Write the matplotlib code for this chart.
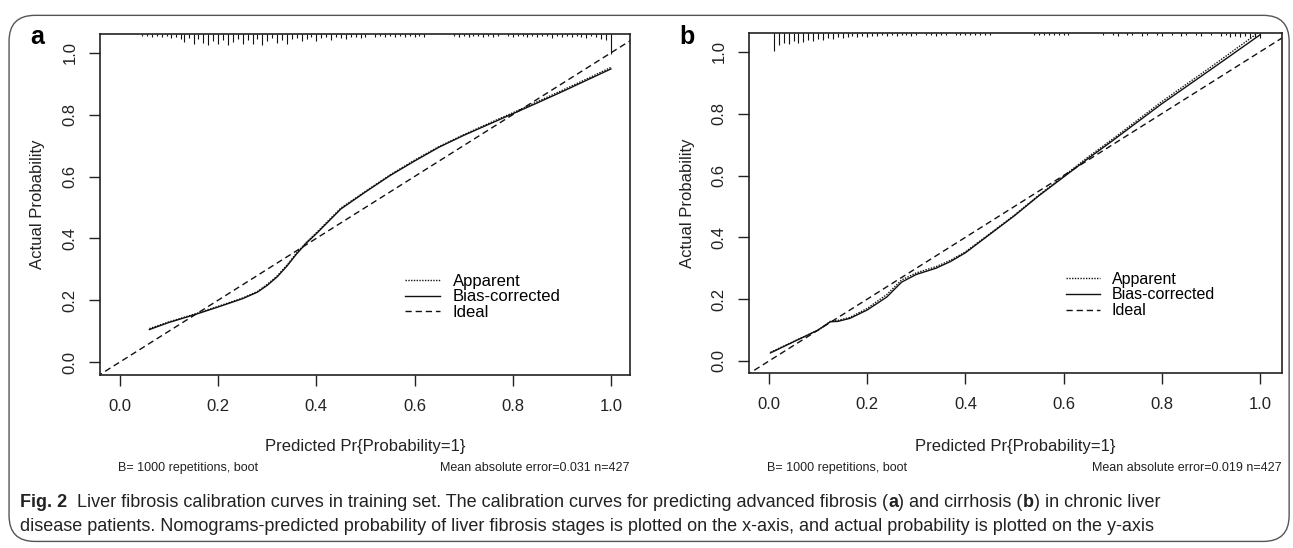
import matplotlib
matplotlib.use("Agg")
import matplotlib.pyplot as plt
from matplotlib.patches import FancyBboxPatch

plt.rcParams["font.family"] = ["Liberation Sans", "DejaVu Sans"]

# ---- panel a: advanced fibrosis ----
pred_a = [0.06, 0.10, 0.15, 0.20, 0.25, 0.28, 0.30, 0.32, 0.34, 0.36, 0.38, 0.40,
          0.45, 0.50, 0.55, 0.60, 0.65, 0.70, 0.75, 0.80, 0.85, 0.90, 0.95, 1.00]
bias_a = [0.105, 0.128, 0.152, 0.178, 0.205, 0.226, 0.248, 0.275, 0.31, 0.35, 0.385, 0.415,
          0.495, 0.550, 0.603, 0.650, 0.695, 0.733, 0.768, 0.803, 0.838, 0.874, 0.911, 0.948]
appar_a = [0.108, 0.130, 0.154, 0.180, 0.207, 0.228, 0.251, 0.278, 0.313, 0.353, 0.388, 0.418,
           0.498, 0.552, 0.605, 0.653, 0.697, 0.735, 0.771, 0.806, 0.842, 0.878, 0.915, 0.953]

# spike histogram of predicted values (top rug)
rug_x_a = [0.045, 0.055, 0.065, 0.075, 0.085, 0.095, 0.105, 0.115, 0.125, 0.13, 0.14, 0.15,
           0.16, 0.17, 0.18, 0.19, 0.20, 0.21, 0.22, 0.23, 0.24, 0.25, 0.26, 0.27, 0.28,
           0.29, 0.30, 0.31, 0.32, 0.33, 0.34, 0.35, 0.36, 0.37, 0.38, 0.39, 0.40, 0.41,
           0.42, 0.43, 0.44, 0.45, 0.46, 0.47, 0.48, 0.49, 0.50, 0.52, 0.53, 0.54, 0.55,
           0.56, 0.57, 0.58, 0.59, 0.60, 0.61, 0.62, 0.68, 0.69, 0.70, 0.71, 0.72, 0.73,
           0.74, 0.75, 0.76, 0.77, 0.79, 0.80, 0.81, 0.82, 0.83, 0.84, 0.85, 0.86, 0.87,
           0.88, 0.89, 0.90, 0.91, 0.92, 0.93, 0.94, 0.95, 0.96, 0.97, 0.98, 0.99, 1.00]
rug_n_a = [2, 2, 3, 2, 3, 2, 4, 3, 5, 8, 4, 10,
           5, 9, 11, 7, 10, 6, 11, 8, 5, 10, 6, 10, 5,
           11, 7, 4, 9, 6, 10, 5, 4, 7, 5, 3, 7, 4,
           3, 6, 3, 4, 5, 3, 3, 4, 3, 3, 2, 3, 2,
           3, 2, 3, 2, 3, 2, 3, 2, 3, 2, 3, 2, 2,
           3, 2, 3, 2, 2, 3, 2, 2, 3, 2, 3, 2, 2,
           4, 2, 3, 2, 3, 2, 3, 4, 2, 3, 5, 6, 20]

# ---- panel b: cirrhosis ----
pred_b = [0.003, 0.05, 0.10, 0.125, 0.14, 0.165, 0.20, 0.24, 0.27, 0.30, 0.34, 0.37,
          0.40, 0.45, 0.50, 0.55, 0.60, 0.65, 0.70, 0.80, 0.90, 1.00]
bias_b = [0.026, 0.062, 0.100, 0.127, 0.128, 0.138, 0.165, 0.207, 0.255, 0.280, 0.300, 0.322,
          0.350, 0.410, 0.470, 0.535, 0.595, 0.655, 0.713, 0.832, 0.943, 1.055]
appar_b = [0.028, 0.063, 0.100, 0.128, 0.131, 0.141, 0.170, 0.215, 0.262, 0.285, 0.305, 0.326,
           0.353, 0.412, 0.472, 0.537, 0.598, 0.660, 0.718, 0.839, 0.951, 1.066]

rug_x_b = [0.01, 0.02, 0.03, 0.04, 0.05, 0.06, 0.07, 0.08, 0.09, 0.10, 0.11, 0.12, 0.13,
           0.14, 0.15, 0.16, 0.17, 0.18, 0.19, 0.20, 0.21, 0.22, 0.23, 0.24, 0.25, 0.26,
           0.27, 0.28, 0.29, 0.30, 0.32, 0.33, 0.34, 0.35, 0.36, 0.38, 0.39, 0.40, 0.41,
           0.42, 0.43, 0.44, 0.45, 0.54, 0.55, 0.56, 0.57, 0.58, 0.59, 0.60, 0.61, 0.68,
           0.70, 0.71, 0.73, 0.74, 0.76, 0.77, 0.79, 0.80, 0.82, 0.84, 0.85, 0.87, 0.88,
           0.90, 0.92, 0.93, 0.94, 0.95, 0.96, 0.97, 0.98, 0.99, 1.00]
rug_n_b = [18, 12, 10, 11, 8, 10, 9, 7, 8, 6, 7, 5, 6,
           4, 5, 4, 3, 4, 3, 4, 3, 3, 2, 3, 2, 3,
           2, 2, 3, 2, 2, 2, 3, 2, 2, 2, 2, 2, 2,
           2, 2, 2, 2, 2, 2, 2, 2, 2, 2, 2, 2, 2,
           2, 3, 2, 2, 3, 2, 2, 3, 2, 3, 2, 2, 3,
           2, 3, 2, 4, 3, 4, 3, 5, 4, 5]

panels = [
    dict(pos=[0.0773, 0.3157, 0.4099, 0.6223], xlim=(-0.0407, 1.0387), ylim=(-0.042, 1.061),
         pred=pred_a, bias=bias_a, appar=appar_a, rx=rug_x_a, rn=rug_n_a, tag="a",
         mae="Mean absolute error=0.031 n=427"),
    dict(pos=[0.5793, 0.3193, 0.4122, 0.6204], xlim=(-0.0407, 1.045), ylim=(-0.039, 1.061),
         pred=pred_b, bias=bias_b, appar=appar_b, rx=rug_x_b, rn=rug_n_b, tag="b",
         mae="Mean absolute error=0.019 n=427"),
]

fig = plt.figure(figsize=(12.93, 5.48), dpi=100)

# rounded frame round the whole figure
frame = FancyBboxPatch((0.007, 0.012), 0.99, 0.96, boxstyle="round,pad=0,rounding_size=0.02",
                       transform=fig.transFigure, fill=False, edgecolor="#555555", lw=1.0,
                       mutation_aspect=1293 / 548)
fig.add_artist(frame)

for p in panels:
    ax = fig.add_axes(p["pos"])
    ax.set_xlim(*p["xlim"])
    ax.set_ylim(*p["ylim"])
    # ideal line
    ax.plot([-0.1, 1.1], [-0.1, 1.1], color="#111111", lw=1.0, ls=(0, (4.5, 2.8)), label="Ideal")
    ax.plot(p["pred"], p["appar"], color="#111111", lw=1.0, ls=(0, (1, 1)), label="Apparent")
    ax.plot(p["pred"], p["bias"], color="#111111", lw=1.0, ls="-", label="Bias-corrected")

    # top spike histogram (1 count ~ one pixel)
    top = p["ylim"][1]
    ax.vlines(p["rx"], [top - n * 0.0033 for n in p["rn"]], top, color="#111111", lw=0.8)

    ax.set_xticks([0.0, 0.2, 0.4, 0.6, 0.8, 1.0])
    ax.set_yticks([0.0, 0.2, 0.4, 0.6, 0.8, 1.0])
    ax.tick_params(direction="out", length=8, width=1.0, labelsize=12, colors="#222222")
    ax.tick_params(axis="x", pad=9)
    ax.tick_params(axis="y", pad=8)
    for lab in ax.get_yticklabels():
        lab.set_rotation(90)
        lab.set_va("center")
    for s in ax.spines.values():
        s.set_linewidth(1.2)
        s.set_color("#222222")

    h, l = ax.get_legend_handles_labels()
    order = [1, 2, 0]
    ax.legend([h[i] for i in order], [l[i] for i in order], loc="upper left",
              bbox_to_anchor=(0.56, 0.322) if p["tag"] == "a" else (0.58, 0.322),
              frameon=False, fontsize=12 if p["tag"] == "a" else 11.5,
              handlelength=2.1, handletextpad=0.75, labelspacing=0.05, borderpad=0)

    x0, y0, w, hgt = p["pos"]
    fig.text(x0 - 62 / 1293, y0 + hgt / 2, "Actual Probability", rotation=90,
             ha="center", va="center", fontsize=12, color="#222222")
    fig.text(x0 + w / 2, 1 - 446 / 548, "Predicted Pr{Probability=1}", ha="center",
             va="center", fontsize=12, color="#222222")
    fig.text(x0 + 18 / 1293, 1 - 468 / 548, "B= 1000 repetitions, boot", ha="left",
             va="center", fontsize=9, color="#222222")
    fig.text(x0 + w, 1 - 468 / 548, p["mae"], ha="right", va="center",
             fontsize=9, color="#222222")
    fig.text(x0 - 70 / 1293, 1 - 37 / 548, p["tag"], ha="left", va="center",
             fontsize=18, fontweight="bold")

# caption with bold pieces chained together
cap = ["Liberation Sans", "DejaVu Sans"]
t = fig.text(20 / 1293, 1 - 511 / 548, "Fig. 2", fontsize=13, fontweight="bold",
             family=cap, va="bottom", color="#222222")
pieces = [("  Liver fibrosis calibration curves in training set. The calibration curves for "
           "predicting advanced fibrosis (", "normal"), ("a", "bold"),
          (") and cirrhosis (", "normal"), ("b", "bold"), (") in chronic liver", "normal")]
for txt, wt in pieces:
    t = plt.annotate(txt, xy=(1, 0), xycoords=t, va="bottom", ha="left", fontsize=13,
                     fontweight=wt, family=cap, color="#222222", annotation_clip=False)
fig.text(20 / 1293, 1 - 535 / 548,
         "disease patients. Nomograms-predicted probability of liver fibrosis stages is "
         "plotted on the x-axis, and actual probability is plotted on the y-axis",
         fontsize=13, family=cap, va="bottom", color="#222222")

fig.savefig("out.png", dpi=100)
